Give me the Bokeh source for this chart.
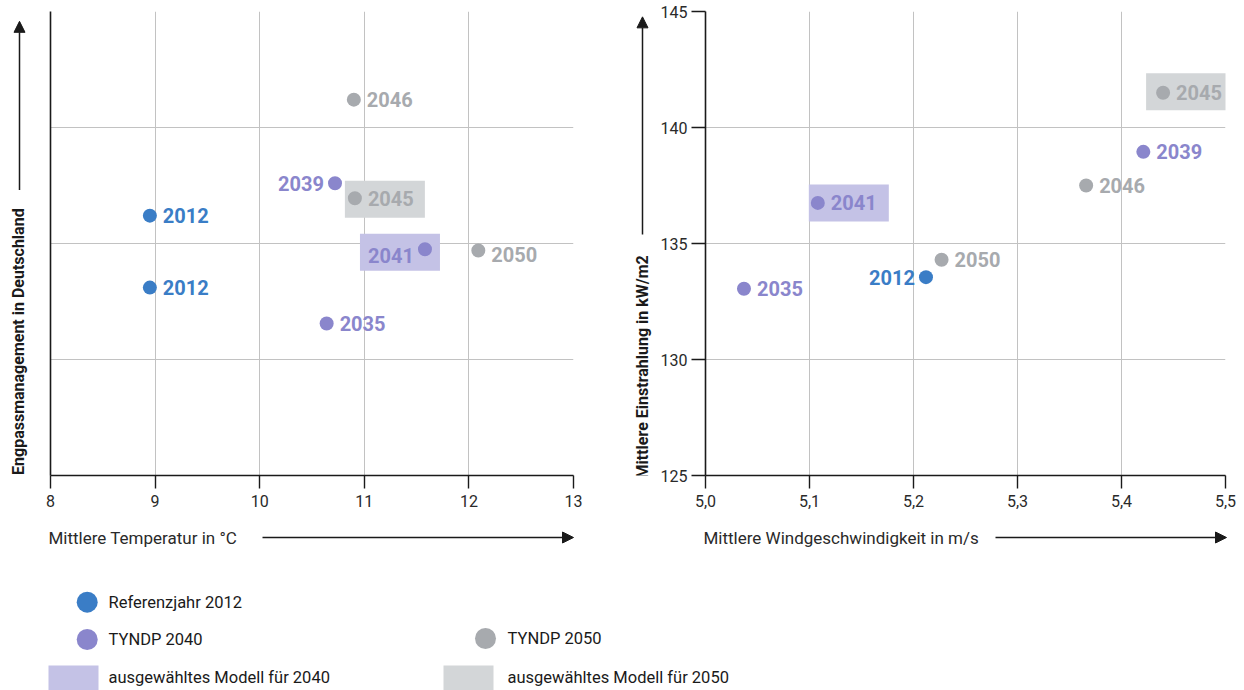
import math
from bokeh.plotting import figure
from bokeh.models import (Range1d, FixedTicker, CustomJSTickFormatter, Arrow,
                          NormalHead, ColumnDataSource)
from bokeh.layouts import column, row
from bokeh.core.properties import value
from bokeh.embed import file_html
from bokeh.resources import INLINE

# ---------------- data ----------------
# left chart: mean temperature vs. congestion management (no y scale shown)
left_year = ["2046", "2039", "2045", "2012", "2041", "2050", "2012", "2035"]
left_group = ["2050", "2040", "2050", "2012", "2040", "2050", "2012", "2040"]
left_temp = [10.90, 10.72, 10.91, 8.95, 11.58, 12.09, 8.95, 10.64]
left_eng = [3.24, 2.52, 2.39, 2.24, 1.95, 1.94, 1.62, 1.31]
left_selected = [False, False, True, False, True, False, False, False]

# right chart: mean wind speed vs. mean irradiation
right_year = ["2045", "2039", "2046", "2041", "2050", "2012", "2035"]
right_group = ["2050", "2040", "2050", "2040", "2050", "2012", "2040"]
right_wind = [5.440, 5.421, 5.366, 5.108, 5.227, 5.212, 5.037]
right_rad = [141.5, 138.95, 137.5, 136.75, 134.3, 133.55, 133.05]
right_selected = [True, False, False, True, False, False, False]

left_xticks = [8, 9, 10, 11, 12, 13]
left_yticks = [0, 1, 2, 3, 4]
right_xticks = [5.0, 5.1, 5.2, 5.3, 5.4, 5.5]
right_yticks = [125, 130, 135, 140, 145]

left_xlabel = "Mittlere Temperatur in °C"
left_ylabel = "Engpassmanagement in Deutschland"
right_xlabel = "Mittlere Windgeschwindigkeit in m/s"
right_ylabel = "Mittlere Einstrahlung  in kW/m2"

legend_labels = ["Referenzjahr 2012", "TYNDP 2040", "TYNDP 2050",
                 "ausgewähltes Modell für 2040", "ausgewähltes Modell für 2050"]

# ---------------- style ----------------
COL = {"2012": "#3a7dc6", "2040": "#8a86cc", "2050": "#a7aaae"}
BOX = {"2040": "#c4c2e6", "2050": "#d3d6d8"}
AX = "#1a1a1a"
GRID = "#c2c2c2"
FONT = "Roboto"

# label placement (screen px): side of label, vertical nudge, box offset
left_side = ["r", "l", "r", "r", "l", "r", "r", "r"]
left_dy = [0, 0, 0, 0, 6, 4, 0, 0]
left_box_dx = [0, 0, 30, 0, -25, 0, 0, 0]
left_box_dy = [0, 0, 1, 0, 3, 0, 0, 0]
right_side = ["r", "r", "r", "r", "r", "l", "r"]
right_dy = [0, 0, 0, 0, 0, 0, 0]
right_box_dx = [23, 0, 0, 31, 0, 0, 0]
right_box_dy = [-1, 0, 0, 0, 0, 0, 0]

TOP_H = 520      # height of the chart row
FRAME_H = 464
BOTTOM_H = 690 - TOP_H


def make_fig(width, xr, yr, bl, br):
    p = figure(width=width, height=TOP_H, x_range=Range1d(*xr), y_range=Range1d(*yr),
               output_backend="svg", toolbar_location=None,
               min_border_left=bl, min_border_right=br, min_border_top=11,
               min_border_bottom=TOP_H - 11 - FRAME_H)
    p.outline_line_color = None
    for g in (p.xgrid, p.ygrid):
        g.grid_line_color = GRID
        g.grid_line_width = 1
    for a in (p.xaxis, p.yaxis):
        a.axis_line_color = AX
        a.axis_line_width = 1.6
        a.major_tick_line_color = AX
        a.major_tick_line_width = 1.4
        a.minor_tick_line_color = None
        a.major_tick_in = 0
        a.major_label_text_font = FONT
        a.major_label_text_font_size = "16px"
        a.major_label_text_color = "#2a2a2a"
    p.xaxis.major_tick_out = 13
    p.xaxis.major_label_standoff = 6
    return p


def strip(width, height, x0, y0):
    """A blank helper canvas whose data units are page pixels (y negated)."""
    s = figure(width=width, height=height, x_range=Range1d(x0, x0 + width),
               y_range=Range1d(-(y0 + height), -y0), output_backend="svg",
               toolbar_location=None, min_border=0)
    s.axis.visible = False
    s.grid.visible = False
    s.outline_line_color = None
    return s


def add_points(p, xs, ys, groups, years, selected, side, dy, bdx, bdy, pxx, pxy):
    # highlight boxes for the selected models
    bx, by, bc = [], [], []
    for x, y, g, s, dx_, dy_ in zip(xs, ys, groups, selected, bdx, bdy):
        if s:
            bx.append(x + dx_ * pxx)
            by.append(y - dy_ * pxy)
            bc.append(BOX[g])
    p.rect(x=bx, y=by, width=80, height=37, width_units="screen",
           height_units="screen", fill_color=bc, line_color=None)
    src = ColumnDataSource(dict(
        x=xs, y=ys, c=[COL[g] for g in groups], t=years,
        align=["left" if s == "r" else "right" for s in side],
        xo=[13 if s == "r" else -11 for s in side],
        yo=dy))
    p.scatter("x", "y", source=src, size=14, fill_color="c", line_color=None)
    p.text("x", "y", text="t", source=src, text_color="c", text_align="align",
           text_baseline="middle", x_offset="xo", y_offset="yo",
           text_font=value(FONT), text_font_style="bold", text_font_size="20px")


def arrow(p, x0, y0, x1, y1):
    p.add_layout(Arrow(end=NormalHead(size=11, fill_color=AX, line_color=AX),
                       x_start=x0, y_start=-y0, x_end=x1, y_end=-y1,
                       line_color=AX, line_width=1.5))


def ytitle(s, x, y, text):
    s.text(x=[x], y=[-y], text=[text], angle=math.pi / 2, text_align="center",
           text_baseline="middle", text_font=value(FONT), text_font_size="16px",
           text_font_style="bold", text_color="#1a1a1a")


# ---------------- left chart ----------------
p1 = make_fig(572, (8, 13), (0, 4), 10, 39)
p1.xaxis.ticker = FixedTicker(ticks=left_xticks)
p1.yaxis.ticker = FixedTicker(ticks=left_yticks)
p1.yaxis.major_tick_out = 0
p1.yaxis.major_label_standoff = 0
p1.yaxis.formatter = CustomJSTickFormatter(code="return ''")
add_points(p1, left_temp, left_eng, left_group, left_year, left_selected,
           left_side, left_dy, left_box_dx, left_box_dy, 5 / 523, 4 / FRAME_H)

# ---------------- right chart ----------------
p2 = make_fig(592, (5.0, 5.5), (125, 145), 53, 19)
p2.xaxis.ticker = FixedTicker(ticks=right_xticks)
p2.xaxis.formatter = CustomJSTickFormatter(code="return tick.toFixed(1).replace('.', ',')")
p2.yaxis.ticker = FixedTicker(ticks=right_yticks)
p2.yaxis.major_tick_out = 14
p2.yaxis.major_label_standoff = 4
add_points(p2, right_wind, right_rad, right_group, right_year, right_selected,
           right_side, right_dy, right_box_dx, right_box_dy, 0.5 / 520, 20 / FRAME_H)

# ---------------- y-axis titles with arrows ----------------
sl = strip(40, TOP_H, 0, 0)
ytitle(sl, 18, 370, left_ylabel)
arrow(sl, 19, 200, 19, 11)

sr = strip(40, TOP_H, 612, 0)
ytitle(sr, 642, 396, right_ylabel)
arrow(sr, 642, 250, 642, 6)

# ---------------- x-axis titles, arrows and legend ----------------
lg = strip(1244, BOTTOM_H, 0, TOP_H)
lg.text(x=[48, 703], y=[-537, -537], text=[left_xlabel, right_xlabel],
        text_font=value(FONT), text_font_size="17px", text_color="#2a2a2a",
        text_align="left", text_baseline="middle")
arrow(lg, 262, 537, 573, 537)
arrow(lg, 995, 537, 1226, 537)

lg.scatter(x=[86.7, 86.7, 485], y=[-601.7, -639, -638], size=21,
           fill_color=[COL["2012"], COL["2040"], COL["2050"]], line_color=None)
lg.rect(x=[73, 468], y=[-677.5, -677.5], width=50, height=25,
        fill_color=[BOX["2040"], BOX["2050"]], line_color=None)
lg.text(x=[108, 108, 507, 108, 507], y=[-601.7, -639, -638, -677, -677],
        text=legend_labels, text_font=value(FONT), text_font_size="16.5px",
        text_color="#1a1a1a", text_align="left", text_baseline="middle")

layout = column(row(sl, p1, sr, p2), lg)
open("out.html", "w").write(file_html(layout, INLINE))
